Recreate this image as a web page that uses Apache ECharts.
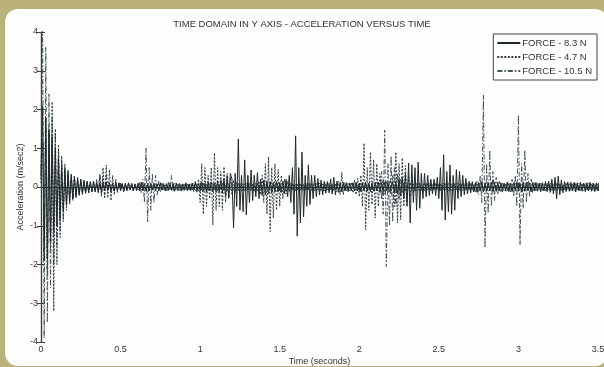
<!DOCTYPE html>
<html>
<head>
<meta charset="utf-8">
<script src="https://cdn.jsdelivr.net/npm/echarts@6/dist/echarts.min.js"></script>
<style>
  html, body { margin: 0; padding: 0; }
  body { width: 604px; height: 367px; background: #bab27a; position: relative; overflow: hidden; }
  .card { position: absolute; left: 5px; top: 9px; right: -4px; bottom: 1px; background: #fdfdfb; border-radius: 13px; }
  #chart { position: absolute; left: 0; top: 0; width: 604px; height: 367px; }
</style>
</head>
<body>
<div class="card"></div>
<div id="chart"></div>
<script>
// sample step of the recorded signals (seconds)
var dt = 0.01;

var seriesNames = ['FORCE - 8.3 N', 'FORCE - 4.7 N', 'FORCE - 10.5 N'];
var xTicks = [0, 0.5, 1, 1.5, 2, 2.5, 3, 3.5];
var yTicks = [-4, -3, -2, -1, 0, 1, 2, 3, 4];

// acceleration (m/sec2), one value per sample
var force83 = [
  0.3, 2.1, -1.9, 1.8, -1.85, 1.5, -1.4, 1.3, -1.15, 1.0,
  -1.0, 0.75, -0.8, 0.55, -0.6, 0.45, -0.45, 0.35, -0.35, 0.3,
  -0.3, 0.25, -0.25, 0.22, -0.2, 0.2, -0.18, 0.17, -0.16, 0.15,
  -0.15, 0.14, -0.13, 0.15, -0.12, 0.12, -0.14, 0.1, -0.12, 0.11,
  -0.1, 0.12, -0.09, 0.1, -0.11, 0.09, -0.1, 0.12, -0.08, 0.1,
  -0.1, 0.08, -0.12, 0.1, -0.09, 0.11, -0.08, 0.09, -0.1, 0.08,
  -0.09, 0.1, -0.08, 0.12, -0.1, 0.09, -0.11, 0.08, -0.1, 0.09,
  -0.08, 0.1, -0.09, 0.08, -0.1, 0.11, -0.08, 0.09, -0.1, 0.08,
  -0.09, 0.1, -0.08, 0.09, -0.11, 0.1, -0.08, 0.09, -0.1, 0.08,
  -0.09, 0.11, -0.1, 0.08, -0.09, 0.1, -0.08, 0.12, -0.1, 0.09,
  -0.1, 0.12, -0.11, 0.1, -0.12, 0.14, -0.1, 0.12, -0.13, 0.1,
  -0.12, 0.15, -0.12, 0.18, -0.15, 0.2, -0.25, 0.3, -0.28, 0.35,
  0.2, -1.05, 0.35, -0.5, 1.24, -0.6, 0.3, -0.64, 0.7, -0.72,
  0.3, -0.4, 0.44, -0.35, 0.3, -0.25, 0.37, -0.3, 0.2, -0.22,
  0.18, -0.2, 0.15, -0.17, 0.14, -0.15, 0.12, -0.13, 0.14, -0.12,
  0.12, -0.14, 0.15, -0.18, 0.2, -0.25, 0.3, -0.4, 0.5, -0.7,
  1.32, -1.27, 0.5, -0.93, 0.9, -0.77, 0.3, -0.5, 0.57, -0.45,
  0.3, -0.3, 0.3, -0.25, 0.22, -0.2, 0.18, -0.2, 0.15, -0.16,
  0.14, -0.15, 0.2, -0.18, 0.25, -0.2, 0.15, -0.14, 0.12, -0.13,
  0.12, -0.1, 0.11, -0.12, 0.1, -0.09, 0.11, -0.1, 0.12, -0.1,
  0.1, -0.12, 0.11, -0.1, 0.12, -0.11, 0.1, -0.12, 0.1, -0.11,
  0.12, -0.1, 0.13, -0.12, 0.1, -0.11, 0.12, -0.1, 0.11, -0.12,
  -0.12, 0.13, -0.15, 0.14, -0.18, 0.2, -0.22, 0.25, -0.3, 0.35,
  -0.5, 0.62, -0.93, 0.57, -0.4, 0.5, -0.6, 0.64, -0.55, 0.35,
  -0.3, 0.35, -0.25, 0.3, -0.22, 0.2, -0.18, 0.2, -0.22, 0.25,
  -0.3, 0.5, -0.6, 0.83, -0.85, 0.4, -0.64, 0.57, -0.7, 0.3,
  -0.6, 0.45, -0.3, 0.4, -0.25, 0.3, -0.2, 0.22, -0.18, 0.15,
  -0.15, 0.14, -0.13, 0.12, -0.14, 0.12, -0.1, 0.13, -0.12, 0.1,
  -0.11, 0.12, -0.1, 0.13, -0.12, 0.1, -0.11, 0.12, -0.1, 0.11,
  -0.12, 0.1, -0.11, 0.13, -0.12, 0.1, -0.12, 0.11, -0.1, 0.12,
  -0.11, 0.1, -0.12, 0.13, -0.11, 0.12, -0.1, 0.11, -0.13, 0.12,
  -0.1, 0.12, -0.11, 0.1, -0.12, 0.11, -0.1, 0.14, -0.12, 0.15,
  -0.14, 0.2, -0.18, 0.25, -0.3, 0.28, -0.2, 0.18, -0.15, 0.14,
  -0.12, 0.13, -0.11, 0.12, -0.1, 0.12, -0.13, 0.11, -0.1, 0.12,
  -0.11, 0.1, -0.12, 0.11, -0.1, 0.12, -0.11, 0.1, -0.12, 0.11,
  -0.1
];

var force47 = [
  0.1, 1.2, -1.5, 1.6, -2.3, 1.4, -1.6, 2.2, -3.2, 1.5,
  -2.0, 1.1, -1.3, 0.8, -0.9, 0.6, -0.6, 0.45, -0.45, 0.35,
  -0.35, 0.3, -0.28, 0.25, -0.22, 0.2, -0.2, 0.18, -0.16, 0.15,
  -0.14, 0.12, -0.13, 0.15, -0.12, 0.2, -0.15, 0.3, -0.25, 0.5,
  -0.3, 0.57, -0.28, 0.45, -0.35, 0.3, -0.2, 0.2, -0.15, 0.12,
  -0.1, 0.09, -0.1, 0.08, -0.09, 0.1, -0.08, 0.09, -0.07, 0.08,
  -0.09, 0.08, -0.1, 0.09, -0.08, 0.07, -0.09, 0.1, -0.08, 0.09,
  -0.07, 0.08, -0.09, 0.1, -0.08, 0.09, -0.1, 0.08, -0.07, 0.09,
  -0.08, 0.1, -0.09, 0.08, -0.07, 0.09, -0.1, 0.08, -0.09, 0.07,
  -0.08, 0.09, -0.1, 0.08, -0.09, 0.1, -0.12, 0.15, -0.15, 0.2,
  -0.4, 0.6, -0.7, 0.5, -0.5, 0.3, -0.3, 0.5, -0.98, 0.88,
  -0.6, 0.5, -0.5, 0.4, -0.6, 0.52, -0.4, 0.35, -0.3, 0.25,
  -0.2, 0.18, -0.15, 0.12, -0.1, 0.09, -0.1, 0.08, -0.09, 0.1,
  -0.08, 0.09, -0.1, 0.08, -0.12, 0.1, -0.12, 0.15, -0.2, 0.3,
  -0.4, 0.6, -0.7, 0.78, -1.15, 0.5, -0.8, 0.6, -0.6, 0.45,
  -0.5, 0.3, -0.3, 0.2, -0.18, 0.15, -0.12, 0.1, -0.09, 0.08,
  -0.1, 0.09, -0.08, 0.1, -0.09, 0.08, -0.1, 0.09, -0.08, 0.1,
  -0.09, 0.08, -0.1, 0.09, -0.08, 0.1, -0.09, 0.08, -0.1, 0.09,
  -0.08, 0.1, -0.09, 0.08, -0.1, 0.09, -0.12, 0.15, -0.2, 0.38,
  -0.2, 0.12, -0.1, 0.09, -0.1, 0.12, -0.15, 0.18, -0.2, 0.22,
  -0.25, 0.3, -0.5, 1.13, -1.1, 0.5, -0.6, 0.9, -0.45, 0.7,
  -0.8, 0.6, -0.5, 0.35, -0.3, 0.2, -0.18, 0.15, -0.12, 0.15,
  -0.2, 0.3, -0.5, 0.9, -0.93, 0.6, -0.85, 0.75, -0.5, 0.55,
  -0.4, 0.3, -0.25, 0.2, -0.15, 0.12, -0.1, 0.09, -0.1, 0.08,
  -0.09, 0.1, -0.08, 0.09, -0.1, 0.08, -0.09, 0.1, -0.08, 0.09,
  -0.1, 0.08, -0.09, 0.1, -0.08, 0.09, -0.1, 0.08, -0.09, 0.1,
  -0.08, 0.09, -0.1, 0.08, -0.09, 0.1, -0.08, 0.09, -0.1, 0.08,
  -0.09, 0.1, -0.08, 0.09, -0.1, 0.08, -0.09, 0.1, -0.08, 0.09,
  -0.1, 0.08, -0.09, 0.1, -0.12, 0.15, -0.12, 0.1, -0.09, 0.08,
  -0.1, 0.09, -0.08, 0.1, -0.09, 0.08, -0.1, 0.09, -0.08, 0.1,
  -0.09, 0.08, -0.1, 0.09, -0.08, 0.1, -0.09, 0.08, -0.1, 0.09,
  -0.08, 0.1, -0.09, 0.08, -0.1, 0.09, -0.08, 0.1, -0.09, 0.08,
  -0.1, 0.09, -0.08, 0.1, -0.09, 0.08, -0.1, 0.09, -0.08, 0.1,
  -0.09, 0.08, -0.1, 0.09, -0.08, 0.1, -0.09, 0.08, -0.1, 0.09,
  -0.08, 0.1, -0.09, 0.08, -0.1, 0.09, -0.08, 0.1, -0.09, 0.08,
  -0.1
];

var force105 = [
  0.2, 4.2, -3.9, 3.6, -3.5, 2.4, -2.6, 1.8, -2.0, 1.4,
  -1.5, 1.0, -1.1, 0.7, -0.8, 0.5, -0.5, 0.4, -0.4, 0.3,
  -0.3, 0.25, -0.22, 0.2, -0.18, 0.15, -0.14, 0.12, -0.12, 0.1,
  -0.1, 0.12, -0.09, 0.1, -0.12, 0.09, -0.1, 0.35, -0.2, 0.25,
  -0.2, 0.3, -0.15, 0.12, -0.1, 0.09, -0.1, 0.08, -0.09, 0.1,
  -0.08, 0.09, -0.1, 0.08, -0.09, 0.1, -0.08, 0.09, -0.1, 0.08,
  0.09, -0.1, 0.12, -0.15, 0.2, -0.4, 1.0, -0.9, 0.5, -0.6,
  0.35, -0.4, 0.3, -0.2, 0.15, -0.12, 0.1, -0.09, 0.08, -0.1,
  0.12, -0.1, 0.3, -0.12, 0.1, -0.09, 0.08, -0.1, 0.09, -0.08,
  0.1, -0.09, 0.08, -0.1, 0.09, -0.08, 0.1, -0.09, 0.08, -0.1,
  0.09, -0.08, 0.1, -0.09, 0.08, -0.1, 0.09, -0.08, 0.1, -0.09,
  0.08, -0.1, 0.09, -0.08, 0.1, -0.09, 0.08, -0.1, 0.09, -0.08,
  0.1, -0.09, 0.08, -0.1, 0.09, -0.08, 0.1, -0.09, 0.08, -0.1,
  0.09, -0.08, 0.1, -0.09, 0.08, -0.1, 0.09, -0.08, 0.1, -0.09,
  0.08, -0.1, 0.09, -0.08, 0.1, -0.09, 0.08, -0.1, 0.09, -0.08,
  0.1, -0.09, 0.08, -0.1, 0.09, -0.08, 0.1, -0.09, 0.08, -0.1,
  0.09, -0.08, 0.1, -0.09, 0.08, -0.1, 0.09, -0.08, 0.1, -0.09,
  0.08, -0.1, 0.09, -0.08, 0.1, -0.09, 0.08, -0.1, 0.09, -0.08,
  0.1, -0.09, 0.08, -0.1, 0.09, -0.08, 0.1, -0.09, 0.08, -0.1,
  0.09, -0.08, 0.1, -0.09, 0.08, -0.1, 0.09, -0.08, 0.1, -0.09,
  0.08, -0.1, 0.09, -0.08, 0.1, -0.09, 0.08, -0.1, 0.09, -0.08,
  0.09, -0.1, 0.12, -0.15, 0.4, -0.7, 1.47, -2.05, 0.6, -1.0,
  0.8, -0.9, 0.5, -0.5, 0.35, -0.3, 0.2, -0.15, 0.12, -0.1,
  0.09, -0.08, 0.1, -0.09, 0.08, -0.1, 0.09, -0.08, 0.1, -0.09,
  0.08, -0.1, 0.09, -0.08, 0.1, -0.09, 0.08, -0.1, 0.09, -0.08,
  0.1, -0.09, 0.08, -0.1, 0.09, -0.08, 0.1, -0.09, 0.08, -0.1,
  0.09, -0.08, 0.1, -0.09, 0.08, -0.1, 0.09, -0.08, 0.1, -0.09,
  0.09, -0.1, 0.08, -0.12, 0.15, -0.2, 0.3, -0.4, 2.37, -1.57,
  0.6, -0.67, 0.95, -0.5, 0.4, -0.35, 0.25, -0.2, 0.15, -0.12,
  0.1, -0.09, 0.08, -0.1, 0.12, -0.15, 0.2, -0.25, 0.3, -0.5,
  1.86, -1.5, 0.6, -0.55, 0.95, -0.4, 0.35, -0.25, 0.2, -0.15,
  0.12, -0.1, 0.09, -0.08, 0.1, -0.09, 0.08, -0.1, 0.09, -0.08,
  0.1, -0.09, 0.08, -0.1, 0.09, -0.08, 0.1, -0.09, 0.08, -0.1,
  0.09, -0.08, 0.1, -0.09, 0.08, -0.1, 0.09, -0.08, 0.1, -0.09,
  0.08, -0.1, 0.09, -0.08, 0.1, -0.09, 0.08, -0.1, 0.09, -0.08,
  0.1
];

function toPairs(values) {
    return values.map(function (v, i) {
        return [Math.round(i * dt * 100) / 100, v];
    });
}

var font = 'Liberation Sans, Arial, sans-serif';
var axisColor = '#3c3c3c';

var myChart = echarts.init(document.getElementById('chart'));
var option = {
    animation: false,
    title: {
        text: 'TIME DOMAIN IN Y AXIS - ACCELERATION VERSUS TIME',
        left: 'center',
        top: 14,
        textStyle: { fontFamily: font, fontSize: 9.5, fontWeight: 'normal', color: '#333' }
    },
    legend: {
        data: seriesNames,
        orient: 'vertical',
        right: 7,
        top: 34,
        itemWidth: 23,
        itemHeight: 8,
        itemGap: 4,
        padding: [4, 5, 4, 3],
        backgroundColor: '#fff',
        borderColor: '#444',
        borderWidth: 1,
        itemStyle: { color: 'transparent', borderWidth: 0, opacity: 0 },
        textStyle: { fontFamily: font, fontSize: 9.5, color: '#333', padding: [0, 0, 0, -3] }
    },
    grid: { left: 41, right: 6, top: 32, bottom: 25, outerBoundsMode: 'none' },
    xAxis: [{
        type: 'value',
        min: 0, max: 3.5, interval: 0.5,
        name: 'Time (seconds)',
        nameLocation: 'middle',
        nameGap: 15,
        nameMoveOverlap: false,
        nameTextStyle: { fontFamily: font, fontSize: 9, color: '#333' },
        axisLine: { lineStyle: { color: axisColor, width: 1.2 } },
        axisTick: { inside: true, length: 4, lineStyle: { color: axisColor } },
        axisLabel: {
            margin: 3, fontFamily: font, fontSize: 9, color: '#333',
            formatter: function (v) { return xTicks.indexOf(v) >= 0 ? String(v) : ''; }
        },
        splitLine: { show: false }
    }, {
        type: 'value', position: 'top',
        min: 0, max: 3.5, interval: 0.5,
        axisLine: { lineStyle: { color: axisColor, width: 1.2 } },
        axisTick: { inside: true, length: 4, lineStyle: { color: axisColor } },
        axisLabel: { show: false },
        splitLine: { show: false }
    }],
    yAxis: [{
        type: 'value',
        min: -4, max: 4, interval: 1,
        name: 'Acceleration (m/sec2)',
        nameLocation: 'middle',
        nameGap: 16,
        nameMoveOverlap: false,
        nameTextStyle: { fontFamily: font, fontSize: 9, color: '#333' },
        axisLine: { lineStyle: { color: axisColor, width: 1.2 } },
        axisTick: { inside: true, length: 4, lineStyle: { color: axisColor } },
        axisLabel: {
            margin: 3, fontFamily: font, fontSize: 9, color: '#333',
            formatter: function (v) { return yTicks.indexOf(v) >= 0 ? String(v) : ''; }
        },
        splitLine: { show: false }
    }, {
        type: 'value', position: 'right',
        min: -4, max: 4, interval: 1,
        axisLine: { lineStyle: { color: axisColor, width: 1.2 } },
        axisTick: { inside: true, length: 4, lineStyle: { color: axisColor } },
        axisLabel: { show: false },
        splitLine: { show: false }
    }],
    series: [{
        name: seriesNames[0],
        type: 'line',
        symbol: 'none',
        data: toPairs(force83),
        lineStyle: { color: '#1f282b', width: 1 },
        itemStyle: { color: '#1f282b' },
        z: 3
    }, {
        name: seriesNames[1],
        type: 'line',
        symbol: 'none',
        data: toPairs(force47),
        lineStyle: { color: '#2e3c42', width: 1, type: [2, 1.5] },
        itemStyle: { color: '#2e3c42' },
        z: 2
    }, {
        name: seriesNames[2],
        type: 'line',
        symbol: 'none',
        data: toPairs(force105),
        lineStyle: { color: '#44555b', width: 1, type: [5, 2, 1.5, 2] },
        itemStyle: { color: '#44555b' },
        z: 1
    }]
};
myChart.setOption(option);
</script>
</body>
</html>
